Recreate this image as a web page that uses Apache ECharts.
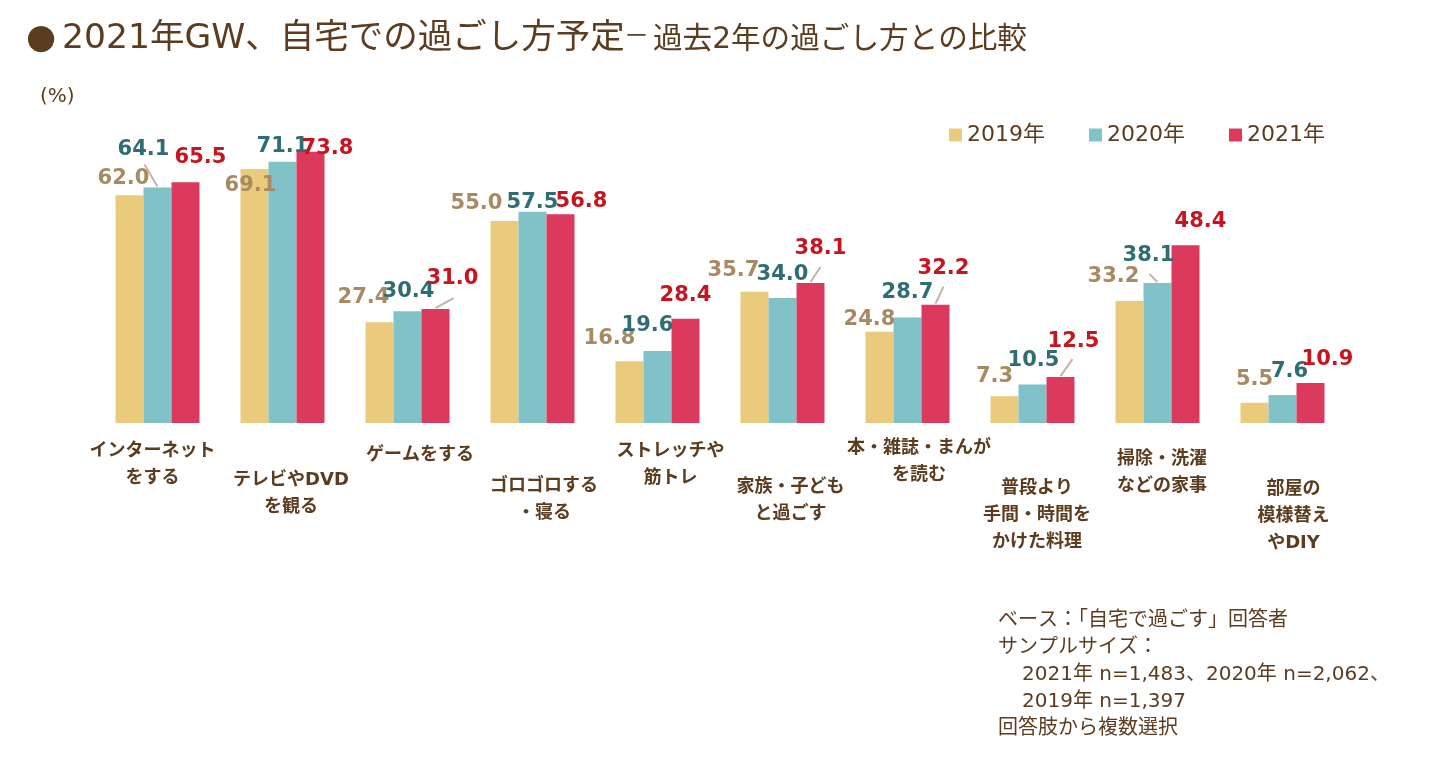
<!DOCTYPE html>
<html><head><meta charset="utf-8">
<script src="https://cdn.jsdelivr.net/npm/echarts@6/dist/echarts.min.js"></script>
<style>html,body{margin:0;padding:0;background:#fff;}#c{width:1445px;height:779px;}</style>
</head><body><div id="c"></div>
<script>
// ---------- data ----------
const categories = [
  'インターネット\nをする',
  'テレビやDVD\nを観る',
  'ゲームをする',
  'ゴロゴロする\n・寝る',
  'ストレッチや\n筋トレ',
  '家族・子ども\nと過ごす',
  '本・雑誌・まんが\nを読む',
  '普段より\n手間・時間を\nかけた料理',
  '掃除・洗濯\nなどの家事',
  '部屋の\n模様替え\nやDIY'
];
const seriesNames = ['2019年', '2020年', '2021年'];
const values2019 = [62.0, 69.1, 27.4, 55.0, 16.8, 35.7, 24.8, 7.3, 33.2, 5.5];
const values2020 = [64.1, 71.1, 30.4, 57.5, 19.6, 34.0, 28.7, 10.5, 38.1, 7.6];
const values2021 = [65.5, 73.8, 31.0, 56.8, 28.4, 38.1, 32.2, 12.5, 48.4, 10.9];
const titleBullet = '●';
const titleMain = '2021年GW、自宅での過ごし方予定';
const titleDash = '－';
const titleSub = '過去2年の過ごし方との比較';
const unitText = '(%)';
const noteLines = [
  'ベース：「自宅で過ごす」回答者',
  'サンプルサイズ：',
  '2021年 n=1,483、2020年 n=2,062、',
  '2019年 n=1,397',
  '回答肢から複数選択'
];

// ---------- layout / style ----------
const BROWN = '#5B3C1E';
const barColors = ['#EACB7E', '#80C2C7', '#DC3A5C'];
const labelColors = ['#A88A62', '#2E6E73', '#C8141E'];
const BAR_W = 28;
// label offsets from default "top" position, per series [dx, dy]
const labelOffsets = [
  [[-6,-1],[-4,32],[-16,-9],[-28,-2],[-20,-7],[-21,-6],[-10,3],[-10,-4],[-16,-9],[0,-8]],
  [[-14,-22],[0,0],[1,-4],[0,6],[-10,-10],[0,-8],[0,-9],[1,-8],[-9,-12],[7,-8]],
  [[15,-9],[17,12],[17,-15],[21,3],[0,-8],[10,-19],[8,-21],[13,-20],[15,-8],[17,-8]]
];
// leader lines: [seriesIndex, categoryIndex, dx, dy] relative to bar top centre
const leaderSpec = [
  [1, 0, -13, -23],
  [2, 2, 18, -11],
  [2, 5, 10, -16],
  [2, 6, 8, -18],
  [2, 7, 12, -18],
  [1, 8, -8, -9]
];
const catShiftX = [-5, 8.5, 12.5, 11.5, 13, 8, 11.5, 4.5, 4.5, 11];
const catPadTop = [3.5, 32.5, 7.5, 38.5, 3.5, 39.5, 0.5, 40.5, 11.5, 41.5];

const allValues = [values2019, values2020, values2021];
const LATIN_CJK = "'DejaVu Sans','Noto Sans CJK JP',sans-serif";

const rich = {};
categories.forEach((c, i) => {
  const s = catShiftX[i];
  rich['sp' + i] = { fontSize: 1, height: catPadTop[i], lineHeight: catPadTop[i] };
  rich['t' + i] = {
    fontSize: 18, fontWeight: 'bold', lineHeight: 27, color: BROWN,
    fontFamily: LATIN_CJK,
    padding: [0, s < 0 ? -2 * s : 0, 0, s > 0 ? 2 * s : 0]
  };
});

const series = seriesNames.map((name, si) => ({
  name,
  type: 'bar',
  barWidth: BAR_W,
  barGap: '0%',
  itemStyle: { color: barColors[si] },
  data: allValues[si],
  label: {
    show: true,
    position: 'top',
    distance: 5,
    formatter: p => p.value.toFixed(1),
    color: labelColors[si],
    fontFamily: "'DejaVu Sans',sans-serif",
    fontWeight: 'bold',
    fontSize: 21
  },
  labelLayout: p => {
    const o = labelOffsets[p.seriesIndex][p.dataIndex];
    return { dx: o[0], dy: o[1] };
  },
  z: 2
}));

series.push({
  name: 'leader',
  type: 'custom',
  silent: true,
  z: 3,
  data: leaderSpec.map(l => [l[1], allValues[l[0]][l[1]], l[0], l[2], l[3]]),
  encode: { x: 0, y: 1 },
  renderItem: (params, api) => {
    const c = api.coord([api.value(0), api.value(1)]);
    const x = c[0] + (api.value(2) - 1) * BAR_W;
    return {
      type: 'line',
      shape: { x1: x, y1: c[1] - 1, x2: x + api.value(3), y2: c[1] + api.value(4) },
      style: { stroke: '#C9B1A8', lineWidth: 2 }
    };
  }
});

const chart = echarts.init(document.getElementById('c'), null, { renderer: 'canvas' });
chart.setOption({
  animation: false,
  backgroundColor: '#fff',
  grid: { left: 95, right: 100, top: 129, bottom: 356, containLabel: false },
  legend: {
    data: seriesNames,
    left: 949,
    top: 124,
    padding: 0,
    icon: 'rect',
    itemWidth: 13,
    itemHeight: 13,
    itemGap: 44,
    textStyle: { fontSize: 22, color: BROWN, fontFamily: LATIN_CJK }
  },
  xAxis: {
    type: 'category',
    data: categories,
    axisLine: { show: false },
    axisTick: { show: false },
    axisLabel: {
      interval: 0,
      margin: 11.5,
      formatter: (value, idx) => {
        const lines = value.split('\n');
        return '{sp' + idx + '| }\n' + lines.map(l => '{t' + idx + '|' + l + '}').join('\n');
      },
      rich
    }
  },
  yAxis: {
    type: 'value',
    min: 0,
    max: 80,
    show: false,
    splitLine: { show: false }
  },
  series,
  graphic: [
    { type: 'text', left: 26, top: 22, style: {
      text: '{b|' + titleBullet + '}{a|' + titleMain + '}',
      rich: {
        b: { fontSize: 34.5, fontFamily: LATIN_CJK, fill: BROWN, padding: [0, 6, 0, 0] },
        a: { fontSize: 34.5, fontFamily: LATIN_CJK, fill: BROWN }
      }
    } },
    { type: 'text', left: 624, top: 22, style: {
      text: '{d|' + titleDash + '}{s|' + titleSub + '}',
      rich: {
        d: { fontSize: 25, fontFamily: "'Noto Sans CJK JP',sans-serif", fill: BROWN, padding: [0, 4, 12, 11.5], verticalAlign: 'middle' },
        s: { fontSize: 29.6, fontFamily: LATIN_CJK, fill: BROWN, verticalAlign: 'middle' }
      }
    } },
    { type: 'text', left: 40, top: 87, style: { text: unitText, fontSize: 20, fill: BROWN, fontFamily: LATIN_CJK } },
    { type: 'text', left: 998, top: 611, style: { text: noteLines[0], fontSize: 20, fill: BROWN, fontFamily: LATIN_CJK } },
    { type: 'text', left: 998, top: 638, style: { text: noteLines[1], fontSize: 20, fill: BROWN, fontFamily: LATIN_CJK } },
    { type: 'text', left: 1022, top: 665, style: { text: noteLines[2], fontSize: 20, fill: BROWN, fontFamily: LATIN_CJK } },
    { type: 'text', left: 1022, top: 692, style: { text: noteLines[3], fontSize: 20, fill: BROWN, fontFamily: LATIN_CJK } },
    { type: 'text', left: 998, top: 719, style: { text: noteLines[4], fontSize: 20, fill: BROWN, fontFamily: LATIN_CJK } }
  ]
});
</script>
</body></html>
